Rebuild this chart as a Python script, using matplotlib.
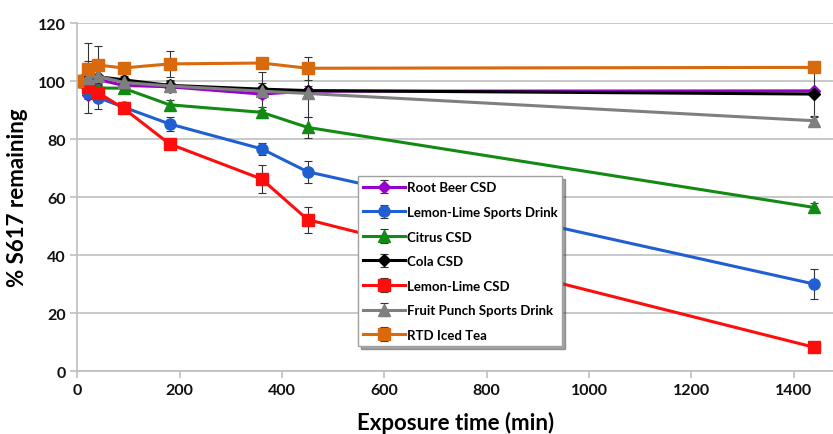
import numpy as np
import matplotlib
matplotlib.use('Agg')
from matplotlib import pyplot as plt

plt.rcParams['font.family'] = ['Lato', 'DejaVu Sans']

time_min = [0, 20, 40, 90, 180, 360, 450, 1440]

series_names = ['Root Beer CSD', 'Lemon-Lime Sports Drink', 'Citrus CSD', 'Cola CSD',
                'Lemon-Lime CSD', 'Fruit Punch Sports Drink', 'RTD Iced Tea']

root_beer = [100, 95.3, 100.5, 98.5, 98.0, 95.5, 96.5, 96.6]
root_beer_err = [0, 1.5, 1, 1, 1, 1.5, 1, 0.5]
ll_sports = [100, 96.0, 94.3, 91.0, 85.2, 76.6, 68.7, 30.0]
ll_sports_err = [0, 2, 4, 1.5, 2.5, 2, 3.8, 5.2]
citrus = [100, 98.0, 97.6, 97.5, 91.8, 89.2, 84.0, 56.4]
citrus_err = [0, 1, 1, 1, 1.5, 1.8, 3.5, 1.5]
cola = [100, 101.0, 101.5, 100.4, 98.5, 97.2, 96.7, 95.5]
cola_err = [0, 2, 2, 1.5, 1.5, 2, 1.5, 8.0]
ll_csd = [100, 98.0, 96.0, 90.6, 78.3, 66.2, 52.2, 8.2]
ll_csd_err = [0, 1.5, 2, 1, 1, 4.7, 4.5, 0.5]
fruit_punch = [100, 101.0, 101.7, 99.5, 98.3, 96.5, 95.7, 86.3]
fruit_punch_err = [0, 12, 3, 1.5, 2, 6.5, 8, 1.5]
iced_tea = [100, 104.0, 105.5, 104.5, 105.9, 106.2, 104.4, 104.7]
iced_tea_err = [0, 3, 6.5, 1, 4.5, 1, 4, 0.5]

values = [root_beer, ll_sports, citrus, cola, ll_csd, fruit_punch, iced_tea]
errors = [root_beer_err, ll_sports_err, citrus_err, cola_err, ll_csd_err, fruit_punch_err, iced_tea_err]
colors = ['#9900cc', '#1f5fd1', '#138a13', '#000000', '#ff0d0d', '#7f7f7f', '#d9690d']
markers = ['D', 'o', '^', 'D', 's', '^', 's']
msizes = [6, 8, 8, 6, 8, 8, 8]

fig = plt.figure(figsize=(8.33, 4.35), dpi=100)
ax = fig.add_axes([0.093, 0.1448, 0.907, 0.8])

for name, v, e, c, m, s in zip(series_names, values, errors, colors, markers, msizes):
    ax.errorbar(time_min, v, yerr=e, color=c, marker=m, markersize=s, linewidth=2.2,
                ecolor='#333333', elinewidth=0.8, capsize=3, capthick=0.8, label=name)

ax.set_xlim(0, 1477)
ax.set_ylim(0, 120)
ax.set_xticks(np.arange(0, 1401, 200))
ax.set_yticks(np.arange(0, 121, 20))
ax.yaxis.grid(True, color='#bfbfbf', linewidth=1.2)
ax.set_axisbelow(True)
for side in ['top', 'right']:
    ax.spines[side].set_visible(False)
for side in ['left', 'bottom']:
    ax.spines[side].set_color('#bfbfbf')
    ax.spines[side].set_linewidth(1.2)
ax.tick_params(axis='both', colors='#bfbfbf', length=5, width=1.2, labelsize=11.5, labelcolor='#111111')
for lbl in ax.get_xticklabels() + ax.get_yticklabels():
    lbl.set_fontweight('bold')

ax.set_xlabel('Exposure time (min)', fontsize=16, fontweight='bold', labelpad=10)
ax.set_ylabel('% S617 remaining', fontsize=16, fontweight='bold', labelpad=7)

leg = ax.legend(loc='lower left', bbox_to_anchor=(0.371, 0.072, 0.27, 0.488), mode='expand',
                frameon=True, fancybox=False, shadow=True, fontsize=9.5, handlelength=3.2,
                handletextpad=0.1, labelspacing=0.95, borderaxespad=0)
leg.get_frame().set_edgecolor('#a0a0a0')
for t in leg.get_texts():
    t.set_fontweight('bold')

plt.savefig('out.png', dpi=100)
plt.close()
